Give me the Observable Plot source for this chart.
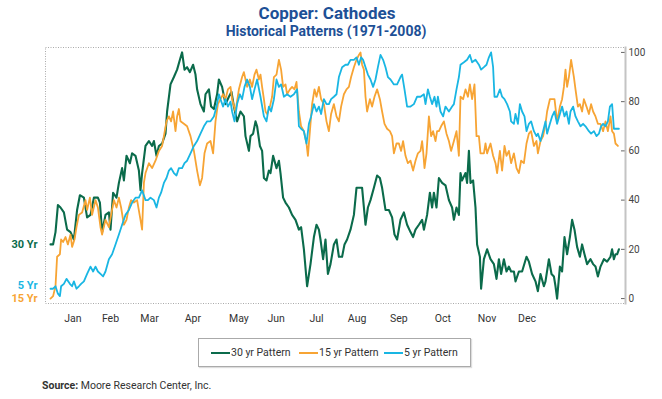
<!DOCTYPE html>
<html><head><meta charset="utf-8">
<script src="https://cdn.jsdelivr.net/npm/d3@7"></script>
<script src="https://cdn.jsdelivr.net/npm/@observablehq/plot@0.6"></script>
<style>
body{margin:0;background:#fff;width:662px;height:399px;position:relative;overflow:hidden;font-family:Roboto,"Liberation Sans",sans-serif;}
#title{position:absolute;left:0;width:654px;top:5px;text-align:center;color:#1d5096;font-weight:bold;font-size:17px;line-height:17px}
#subtitle{position:absolute;left:0;width:652px;top:24px;text-align:center;color:#1d5096;font-weight:bold;font-size:14px;line-height:14px}
#chart{position:absolute;left:0;top:0}
#legend{position:absolute;left:198px;top:338px;width:271px;height:27px;border:1px solid #aaa;box-shadow:1px 1px 1px #ddd;font-size:10.5px;color:#333}
.item{position:absolute;top:7px;display:flex;align-items:center;line-height:13px}
.sw{display:inline-block;width:19px;height:2px;margin-right:1px}
#source{position:absolute;left:42px;top:379px;font-size:10.5px;color:#333;line-height:13px}
</style>
</head><body>
<div id="title">Copper: Cathodes</div>
<div id="subtitle">Historical Patterns (1971-2008)</div>
<div id="chart"></div>
<div id="legend"></div>
<div id="source"><b>Source:</b> Moore Research Center, Inc.</div>
<script>
const months = ["Jan","Feb","Mar","Apr","May","Jun","Jul","Aug","Sep","Oct","Nov","Dec"];
const monthPos = [11.2,30,49.5,71.2,94.2,112.8,133,153.3,174.2,196.2,218.3,238.3];
const yTicks = [0,20,40,60,80,100];
const seriesNames = ["30 yr Pattern","15 yr Pattern","5 yr Pattern"];
const seriesShort = ["30 Yr","15 Yr","5 Yr"];
const seriesColors = ["#0b6b4b","#f7a434","#19b6e3"];
const labelValues = [22,0,5.5];

const pattern30 = [[0,22],[1.3,22],[2.5,27],[3.7,38],[5,37],[6.7,35],[8.3,28],[10,27],[11.7,24],[13.3,36],[14.7,42],[16.7,41],[18.3,33],[20,34],[21.7,41],[23.7,41],[24.7,39],[25.8,27],[27.5,34],[29.2,35],[30,28],[31.3,43],[33,41],[34.2,47],[35.8,53],[36.7,48],[38,58],[39.7,55],[40.8,59],[42.5,58],[44.2,52],[45,44],[45.8,51],[47.5,62],[49.2,64],[50.8,62],[51.7,64],[53,58],[54.2,62],[55.8,63],[57.5,67],[58.3,76],[60,87],[61.7,90],[63.3,93],[64.7,97],[65.8,100],[67,93],[68.3,94],[69.7,92],[71.3,95],[72.5,91],[73.3,85],[75,79],[76.7,76],[77.5,83],[79.2,85],[80.3,78],[81.7,77],[83.3,83],[84.2,89],[85.8,86],[87.5,79],[89.2,82],[90.5,84],[91.7,78],[93.3,72],[95,76],[96.7,74],[97.5,66],[99.2,60],[100,66],[101.3,67],[102.5,72],[103.3,70],[104.7,62],[105.8,60],[106.7,49],[108,48],[109.2,52],[110,51],[111.3,58],[113,53],[114.2,56],[115,51],[116.3,41],[117.5,39],[119.2,37],[120.8,34],[122.5,32],[124.2,28],[125.3,29],[126.7,20],[128.3,5],[130,14],[131.7,25],[133,30],[134.2,28],[135,24],[136.3,16],[137.5,24],[138.7,10],[140,14],[141.7,22],[143,24],[144.2,17],[145.8,17],[147,22],[148.3,24],[150,28],[151.7,34],[153,45],[154.2,45],[155.8,45],[157.5,30],[158.7,37],[160,40],[161.7,45],[163.3,50],[164.7,49],[165.8,45],[167.5,36],[169.2,36],[170.8,33],[172,26],[173.3,24],[175,32],[176.7,35],[178.3,30],[180,27],[181.3,25],[182.5,28],[184.2,30],[185.8,32],[186.7,28],[188.3,34],[189.7,43],[190.8,37],[191.7,43],[193,37],[194.2,49],[195.8,47],[197.5,46],[199.2,40],[200.8,37],[201.7,32],[203,37],[204.2,34],[205,51],[205.8,48],[207.5,51],[208.3,47],[209.2,60],[210,47],[211.3,48],[212.5,37],[213.3,22],[214.7,17],[215.3,4],[216.7,16],[218.3,20],[220,16],[221.7,14],[223,8],[224.2,16],[225.3,10],[226.7,16],[228,11],[229.2,13],[230.3,11],[231.7,11],[232.5,7],[234.2,11],[235.8,11],[238,17],[239.2,15],[240.8,10],[242.5,7],[243.7,3],[245,10],[246.7,5],[247.5,7],[249.2,16],[250.5,10],[251.7,9],[252.5,5],[253.3,0],[254.7,13],[255.8,11],[257,25],[258.3,18],[259.7,25],[260.8,32],[262,28],[263.3,21],[264.7,17],[265.8,22],[267,18],[268.3,14],[270,16],[271.3,14],[272.5,13],[273.7,9],[275,13],[276.7,16],[278.3,15],[280,17],[280.8,20],[281.7,16],[282.5,18],[283.3,18],[284.2,20]];

const pattern15 = [[0,0],[1.3,1],[2.5,5],[3.3,17],[4.7,18],[5.3,24],[6.3,23],[7.5,25],[8.7,22],[10,26],[10.8,21],[12,24],[13,29],[14.2,34],[15.8,35],[17.5,40],[18.3,36],[19.7,41],[20.8,34],[22.5,40],[23.7,37],[25,29],[25.8,26],[27.5,32],[29.2,29],[30.3,34],[31.7,40],[33,37],[34.2,41],[35.3,37],[36.7,30],[38,32],[39.2,37],[40.3,40],[41.7,39],[43.3,40],[45,32],[45.8,28],[46.7,47],[47.5,51],[49.2,55],[50.8,53],[52.5,56],[54.2,60],[55.8,62],[56.7,66],[58,72],[59.2,74],[60.3,72],[61.3,76],[62.5,68],[63.3,74],[64.2,77],[65,72],[66.7,71],[68.3,70],[70,66],[71.7,60],[73.3,52],[74.7,46],[75.8,49],[77,59],[78.3,63],[80,64],[81.3,59],[82.5,72],[83.7,79],[85,81],[86.3,83],[87.5,81],[88.7,85],[90,86],[90.8,81],[92.5,76],[94.2,85],[95.8,90],[96.7,92],[98.3,86],[99.7,89],[100.8,86],[102,91],[103,93],[104.2,89],[105,91],[105.8,86],[106.7,81],[107.5,76],[108.3,75],[109.7,78],[110.8,82],[111.7,90],[113,91],[114.2,97],[115.3,93],[116.3,86],[117.5,87],[118.3,83],[119.7,85],[120.8,86],[122,85],[123,88],[124.2,76],[125.3,70],[126.7,68],[128,63],[128.7,58],[129.7,68],[130.8,79],[132,85],[133,82],[134.2,86],[135.3,81],[136.7,79],[138,72],[139.2,68],[140.3,75],[141.7,79],[143,74],[144.2,72],[145.3,78],[146.7,83],[148,85],[149.2,86],[150.3,90],[151.7,94],[153,97],[154.2,99],[155,100],[155.8,95],[156.7,93],[157.5,82],[158.3,76],[159.7,81],[160.8,78],[162,82],[163.3,85],[164.7,81],[165.8,76],[167,71],[168.3,69],[169.7,68],[170.8,66],[171.7,59],[173,63],[174.2,63],[175.3,60],[176.3,64],[177.5,58],[178.7,55],[180,56],[181.3,52],[182.5,56],[183.7,59],[185,60],[185.8,64],[186.3,60],[187,53],[188,59],[189.2,74],[190.3,66],[191.3,68],[192.5,64],[193.3,68],[194.2,68],[195.3,70],[196.7,72],[198,67],[199.2,64],[200.3,60],[201.7,64],[203,68],[204.2,58],[205,82],[206.3,81],[207.5,85],[208.7,82],[209.7,87],[210.8,81],[212,87],[213,66],[214.2,66],[215,59],[216.7,59],[217.5,63],[218.3,59],[220,63],[221.3,58],[222.5,55],[223.3,51],[224.7,60],[225.8,52],[227,62],[228,58],[229.2,60],[230.3,55],[231.7,59],[233,53],[234.2,51],[235.3,56],[236.7,55],[238,63],[239.2,67],[240.3,68],[241.7,62],[243,64],[243.7,59],[245,64],[246.3,66],[247.5,71],[248.3,76],[249.7,81],[250.8,81],[252,81],[253.3,72],[254.7,78],[255.8,81],[256.7,86],[257.5,93],[258.3,86],[259.2,90],[260.3,97],[261.7,90],[262.5,85],[263.7,78],[264.7,79],[265.8,76],[266.7,81],[268,78],[269.2,75],[270.3,79],[271.3,76],[272.5,74],[273.7,71],[275,71],[276.3,68],[277.5,72],[278.7,68],[280,74],[280.8,68],[281.7,67],[282.5,63],[283.7,62]];

const pattern5 = [[0,4],[1.3,4],[2.5,5],[3.7,2],[4.7,1],[5.3,5],[6.7,6],[8,8],[9.7,6],[10.8,5],[11.7,7],[13,4],[14.2,5],[15.3,6],[16.7,7],[18.3,10],[20,13],[21.3,11],[22.5,13],[23.7,11],[25,10],[26.3,9],[27.5,11],[29.2,16],[30.8,18],[32.5,22],[34.2,26],[35.8,30],[37.5,34],[39.2,36],[40.8,39],[42.5,41],[44.2,41],[45.8,44],[47.5,40],[48.7,40],[50,41],[51.7,40],[53,37],[54.2,41],[55.3,43],[56.7,47],[58,49],[59.2,52],[60.3,53],[61.7,51],[63,50],[64.2,53],[65.8,53],[67,55],[68.3,56],[70,59],[71.7,62],[73.3,64],[75,67],[76.7,70],[78.3,72],[80,72],[81.7,74],[83,78],[84.2,83],[85,81],[86.3,78],[87.5,81],[88.7,78],[90,80],[90.8,76],[92,72],[93.3,79],[94.7,83],[95.8,81],[97,86],[98.3,89],[99.7,86],[100.8,81],[102,85],[103.3,89],[105,82],[106.7,74],[108,72],[109.2,78],[110.3,76],[111.7,81],[113,89],[114.2,86],[115.3,87],[116.7,82],[118.3,83],[120,82],[121.7,83],[123.3,85],[124.2,70],[125.3,69],[126.7,68],[128,63],[129.2,71],[130.3,74],[131.7,79],[133,76],[134.2,78],[135.3,75],[136.7,81],[138,79],[139.2,79],[140.3,81],[141.7,82],[143,83],[144.2,90],[145.8,94],[147.5,95],[148.7,95],[150,97],[151.7,97],[153,98],[154.2,95],[155.3,98],[156.3,97],[157.5,94],[158.7,91],[160,89],[161.3,86],[162.5,89],[163.7,94],[165,99],[166.3,97],[167.5,94],[168.7,90],[170,89],[171.7,87],[173.3,87],[175,90],[175.8,91],[177,85],[178.3,78],[180,78],[181.7,79],[183.3,82],[185,82],[186.7,83],[187.5,79],[188.7,85],[189.7,82],[190.8,79],[192,82],[193,78],[193.7,82],[195,76],[196.3,74],[197.5,78],[199.2,76],[200.8,78],[201.7,79],[203,85],[204.2,90],[205,95],[206.7,96],[208.3,97],[209.7,99],[210.8,96],[212.5,97],[214.2,95],[215.3,93],[216.7,94],[218,95],[219.2,98],[220.3,100],[221.3,94],[222,82],[223.3,82],[224.7,85],[225.8,82],[227,81],[228.3,79],[229.7,76],[230.3,72],[231.7,71],[232.5,75],[233.7,71],[234.7,79],[235.8,76],[237,74],[238,68],[239.2,71],[240.3,72],[241.7,68],[243,66],[243.7,67],[245,64],[246.3,68],[247.5,72],[248.3,67],[249.7,71],[250.8,74],[252,76],[253.3,71],[254.7,75],[255.8,78],[257,74],[258,76],[259.2,71],[260,76],[261.3,78],[262.5,74],[263.7,72],[265,70],[266.3,71],[267.5,70],[269.2,68],[270.3,67],[271.7,68],[273,66],[274.2,67],[275.3,70],[276.3,71],[277.5,70],[278.7,72],[279.7,78],[280.8,79],[281.7,69],[283,69],[284.2,69]];

const seriesData = [pattern30, pattern15, pattern5];
const sideLabels = seriesShort.map((s, i) => ({name: s, value: labelValues[i], color: seriesColors[i]}));

const chart = Plot.plot({
  width: 662,
  height: 330,
  marginTop: 47,
  marginBottom: 27,
  marginLeft: 45,
  marginRight: 37,
  style: {fontFamily: 'Roboto,"Liberation Sans",sans-serif', fontSize: "10.5px", background: "transparent"},
  x: {domain: [-2.5, 287.5]},
  y: {domain: [-2, 102]},
  marks: [
    Plot.frame({stroke: "#aaa", strokeDasharray: "1,1.5"}),
    Plot.axisX(monthPos, {anchor: "bottom", tickSize: 0, tickPadding: 11, tickFormat: d => months[monthPos.indexOf(d)], fill: "#333", label: null}),
    Plot.axisY(yTicks, {anchor: "right", tickSize: 5, dx: -5, fill: "none", stroke: "#666", label: null}),
    Plot.axisY(yTicks, {anchor: "right", tickSize: 0, tickPadding: 3, fill: "#444", label: null, textAnchor: "start", fontSize: 10}),
    Plot.frame({anchor: "right", stroke: "#c4c4c4", strokeWidth: 2}),
    ...seriesData.map((data, i) => Plot.line(data, {x: d => d[0], y: d => d[1], stroke: seriesColors[i], strokeWidth: i === 0 ? 2.1 : 1.8})),
    Plot.text(sideLabels, {frameAnchor: "left", y: "value", text: "name", fill: "color", textAnchor: "end", dx: -8, fontWeight: "bold", fontSize: 11})
  ]
});
document.getElementById("chart").appendChild(chart);

const legend = document.getElementById("legend");
const itemLefts = [12, 100, 185];
seriesNames.forEach((n, i) => {
  const it = document.createElement("div");
  it.className = "item";
  it.style.left = itemLefts[i] + "px";
  it.innerHTML = `<span class="sw" style="background:${seriesColors[i]}"></span><span>${n}</span>`;
  legend.appendChild(it);
});
</script>
</body></html>
